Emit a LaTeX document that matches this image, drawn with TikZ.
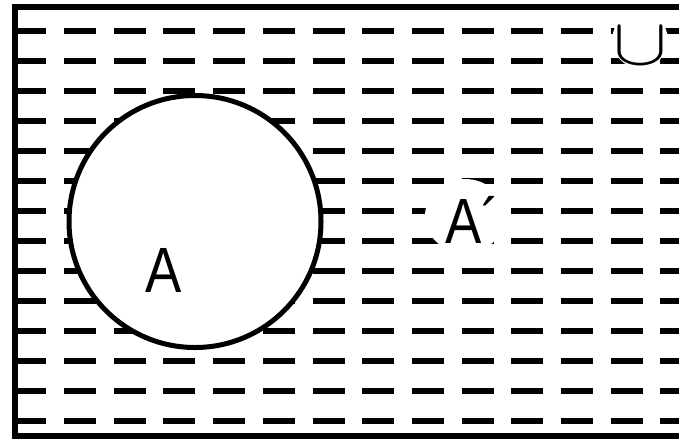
\documentclass[tikz,border=0pt]{standalone}
\usepackage{fontspec}
\setmainfont{Liberation Sans}
\usetikzlibrary{shapes.geometric}
\tikzset{
  hatchline/.style={line width=5.5pt, dash pattern=on 32pt off 17.7pt},
  frameline/.style={line width=6pt},
  setcircle/.style={draw, circle, line width=5pt, fill=white, minimum size=252pt},
  setlabel/.style={font=\fontsize{64}{64}\selectfont, inner sep=0pt, xscale=0.85},
  labelbg/.style={fill=white, inner sep=0pt}
}

\begin{document}
\begin{tikzpicture}[x=1pt, y=-1pt]
  \useasboundingbox (0,0) rectangle (679,440);
  \clip (0,0) rectangle (679,440);
  % hatching of the universe
  \foreach \y in {31,61,...,421}
    \draw[hatchline] (14.3,\y) -- (700,\y);
  % set A
  \node[setcircle] (setA) at (195,221.5) {};
  \node[setlabel] (labA) at (163.5,270) {A};
  % complement
  \node[labelbg, ellipse, minimum width=80pt, minimum height=74pt] (compbg) at (465,216) {};
  \node[setlabel, anchor=base west] (labAc) at (445,243) {A´};
  % union sign
  \node[labelbg, circle, minimum size=56pt] (cupbg) at (640,40) {};
  \node[inner sep=0pt, xscale=3.9, yscale=3.2, font=\fontsize{20}{20}\selectfont] (cup) at (640,46.5) {$\cup$};
  % frame
  \draw[frameline] (700,7) -| (15,436) -- (700,436);
\end{tikzpicture}
\end{document}
